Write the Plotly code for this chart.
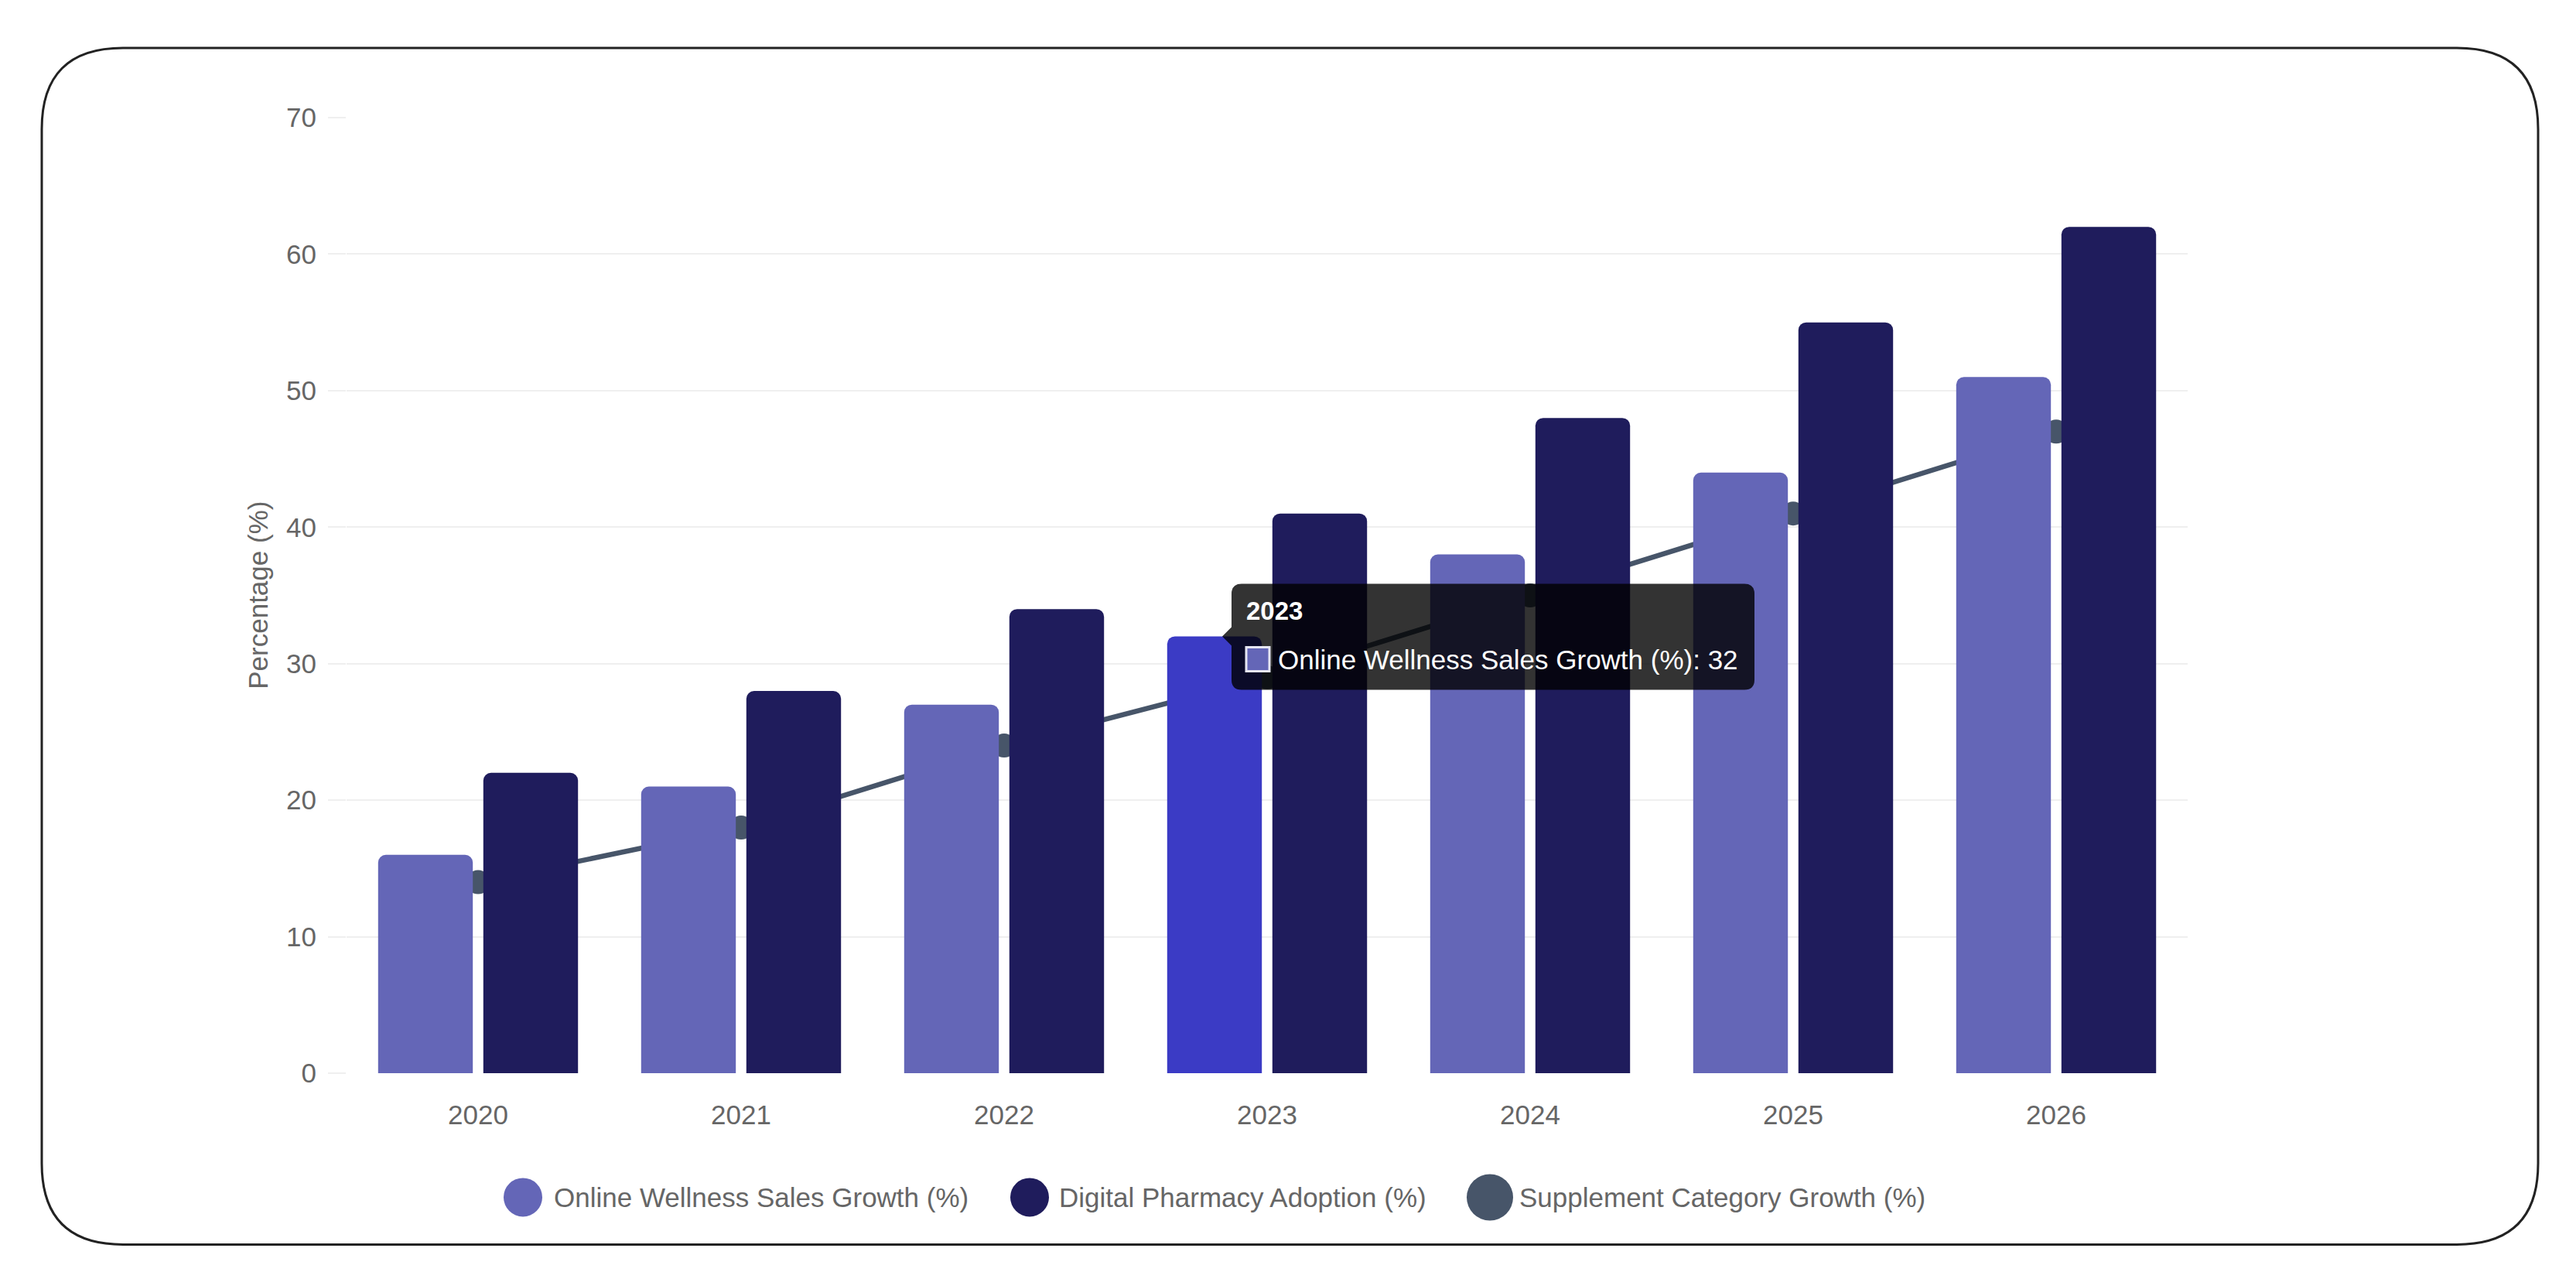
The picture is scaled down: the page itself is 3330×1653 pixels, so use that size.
import plotly.graph_objects as go

# ---------------------------------------------------------------------------
# Data
# ---------------------------------------------------------------------------

YEARS = ["2020", "2021", "2022", "2023", "2024", "2025", "2026"]
ONLINE_GROWTH = [16, 21, 27, 32, 38, 44, 51]
PHARMACY_ADOPTION = [22, 28, 34, 41, 48, 55, 62]
SUPPLEMENT_GROWTH = [14, 18, 24, 29, 35, 41, 47]
SERIES_NAMES = [
    "Online Wellness Sales Growth (%)",
    "Digital Pharmacy Adoption (%)",
    "Supplement Category Growth (%)",
]
Y_TICKS = [0, 10, 20, 30, 40, 50, 60, 70]
HOVER_INDEX = 3  # the bar shown with its tooltip

# ---------------------------------------------------------------------------
# Style / layout (pixels of the 3330x1653 page)
# ---------------------------------------------------------------------------

BODY = 8  # default page margin around the plot div
W, H = 3330 - 2 * BODY, 1653 - 2 * BODY
PL, PR, PT, PB = 448, 2828, 152, 1387.5   # plot area, page pixels
Y_MAX = 70

C_ONLINE = "#6466b7"
C_ONLINE_HOVER = "#3b3bc5"
C_PHARMACY = "#1f1c5c"
C_SUPPLEMENT = "#475569"
C_TEXT = "#666666"
C_GRID = "#efefef"
FONT = "Liberation Sans, Arial, Helvetica, sans-serif"
FS = 35


def px(x):
    return (x - PL) / (PR - PL)


def py(y):
    return (PB - y) / (PB - PT)


def path_from(points):
    parts = []
    for cmd, *xy in points:
        coords = []
        for i in range(0, len(xy), 2):
            coords.append(f"{px(xy[i]):.5f},{py(xy[i + 1]):.5f}")
        parts.append(cmd + " " + " ".join(coords))
    return " ".join(parts) + " Z"


def rounded_rect(x0, y0, x1, y1, r, caret=None):
    pts = [
        ("M", x0 + r, y0),
        ("L", x1 - r, y0),
        ("Q", x1, y0, x1, y0 + r),
        ("L", x1, y1 - r),
        ("Q", x1, y1, x1 - r, y1),
        ("L", x0 + r, y1),
        ("Q", x0, y1, x0, y1 - r),
    ]
    if caret is not None:
        cy, c = caret
        pts += [("L", x0, cy + c), ("L", x0 - c, cy), ("L", x0, cy - c)]
    pts += [("L", x0, y0 + r), ("Q", x0, y0, x0 + r, y0)]
    return path_from(pts)


online_colors = [C_ONLINE_HOVER if i == HOVER_INDEX else C_ONLINE
                 for i in range(len(YEARS))]

fig = go.Figure()

fig.add_trace(go.Scatter(
    x=YEARS, y=SUPPLEMENT_GROWTH, name=SERIES_NAMES[2],
    mode="lines+markers",
    line=dict(color=C_SUPPLEMENT, width=6.5),
    marker=dict(color=C_SUPPLEMENT, size=31),
    zorder=-1, showlegend=False,
))
fig.add_trace(go.Bar(
    x=YEARS, y=ONLINE_GROWTH, name=SERIES_NAMES[0],
    marker=dict(color=online_colors, cornerradius=10, line=dict(width=0)),
    showlegend=False,
))
fig.add_trace(go.Bar(
    x=YEARS, y=PHARMACY_ADOPTION, name=SERIES_NAMES[1],
    marker=dict(color=C_PHARMACY, cornerradius=10, line=dict(width=0)),
    showlegend=False,
))

shapes = []
annotations = []

# card border
shapes.append(dict(
    type="path", xref="paper", yref="paper",
    path=rounded_rect(54, 62, 3281, 1609, 105),
    line=dict(color="#222222", width=3), fillcolor="rgba(0,0,0,0)",
    layer="below",
))

# y-axis title
annotations.append(dict(
    text="Percentage (%)", xref="paper", yref="paper",
    x=px(334), y=py(770), xanchor="center", yanchor="middle",
    textangle=-90, showarrow=False,
    font=dict(family=FONT, size=FS, color=C_TEXT),
))

# legend (drawn by hand so the circles can be large)
legend_items = [
    (SERIES_NAMES[0], C_ONLINE, 676, 50, 714),
    (SERIES_NAMES[1], C_PHARMACY, 1331, 50, 1367),
    (SERIES_NAMES[2], C_SUPPLEMENT, 1926, 60, 1962),
]
LEG_Y = 1548
for name, color, cx, d, tx in legend_items:
    shapes.append(dict(
        type="circle", xref="paper", yref="paper",
        xsizemode="pixel", ysizemode="pixel",
        xanchor=px(cx), yanchor=py(LEG_Y),
        x0=-d / 2, x1=d / 2, y0=-d / 2, y1=d / 2,
        fillcolor=color, line=dict(width=0),
    ))
    annotations.append(dict(
        text=name, xref="paper", yref="paper",
        x=px(tx), y=py(LEG_Y), xanchor="left", yanchor="middle",
        showarrow=False, font=dict(family=FONT, size=FS, color=C_TEXT),
    ))

# tooltip for the hovered bar
cat_w = (PR - PL) / len(YEARS)
slot = cat_w * 0.8 / 2
bar_cx = PL + (HOVER_INDEX + 0.5) * cat_w - slot / 2
bar_top = PB - ONLINE_GROWTH[HOVER_INDEX] * (PB - PT) / Y_MAX
tip_x = bar_cx + 10
bx0, bx1 = tip_x + 12, tip_x + 12 + 676
by0, by1 = bar_top - 68, bar_top + 69
shapes.append(dict(
    type="path", xref="paper", yref="paper",
    path=rounded_rect(bx0, by0, bx1, by1, 13, caret=(bar_top, 12)),
    fillcolor="rgba(0,0,0,0.8)", line=dict(width=0), layer="above",
))
shapes.append(dict(
    type="rect", xref="paper", yref="paper",
    x0=px(bx0 + 19), x1=px(bx0 + 49), y0=py(by0 + 82), y1=py(by0 + 113),
    fillcolor=C_ONLINE, line=dict(color="#e6e6f2", width=3), layer="above",
))
annotations.append(dict(
    text=f"<b>{YEARS[HOVER_INDEX]}</b>", xref="paper", yref="paper",
    x=px(bx0 + 17), y=py(by0 + 35), xanchor="left", yanchor="middle",
    showarrow=False, font=dict(family=FONT, size=FS - 2, color="white"),
))
annotations.append(dict(
    text=f"{SERIES_NAMES[0]}: {ONLINE_GROWTH[HOVER_INDEX]}",
    xref="paper", yref="paper",
    x=px(bx0 + 58), y=py(by0 + 98), xanchor="left", yanchor="middle",
    showarrow=False, font=dict(family=FONT, size=FS, color="white"),
))

fig.update_layout(
    width=W, height=H, autosize=False,
    margin=dict(l=PL - BODY, r=W - (PR - BODY), t=PT - BODY,
                b=H - (PB - BODY), pad=0),
    paper_bgcolor="white", plot_bgcolor="white",
    barmode="group", bargap=0.2, bargroupgap=0.1,
    hovermode=False,
    font=dict(family=FONT, size=FS, color=C_TEXT),
    shapes=shapes, annotations=annotations,
)
fig.update_xaxes(
    type="category", automargin=False,
    showgrid=False, zeroline=False,
    showline=False, ticks="", ticklabelstandoff=30,
    tickfont=dict(family=FONT, size=FS, color=C_TEXT),
)
fig.update_yaxes(
    range=[0, Y_MAX], tickvals=Y_TICKS, automargin=False,
    showgrid=True, gridcolor=C_GRID, gridwidth=2, zeroline=False,
    showline=False, ticks="outside", ticklen=23, tickcolor=C_GRID, tickwidth=2,
    ticklabelstandoff=8,
    tickfont=dict(family=FONT, size=FS, color=C_TEXT),
)

fig.write_html("out.html")
